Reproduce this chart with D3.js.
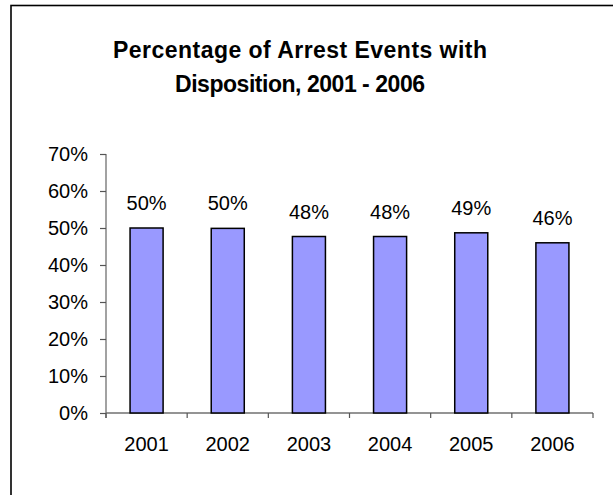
<!DOCTYPE html>
<html>
<head>
<meta charset="utf-8">
<script src="https://cdn.jsdelivr.net/npm/d3@7"></script>
<style>
  body { margin: 0; background: #fff; }
  svg { display: block; font-family: "Liberation Sans", Arial, sans-serif; }
</style>
</head>
<body>
<svg id="chart" width="613" height="495"></svg>
<script>
// data
const years = ['2001', '2002', '2003', '2004', '2005', '2006'];
const pctValues = [50.0, 49.9, 47.7, 47.7, 48.7, 46.0];
const yTicks = [0, 10, 20, 30, 40, 50, 60, 70];
const titleLines = ['Percentage of Arrest Events with', 'Disposition, 2001 - 2006'];

const width = 613, height = 495;
const plot = { left: 106, right: 593, top: 154, bottom: 413 };

const svg = d3.select('#chart');

svg.append('rect')
    .attr('width', width)
    .attr('height', height)
    .attr('fill', '#fff');

// outer frame, right and bottom edges fall outside the picture
svg.append('rect')
    .attr('x', 11)
    .attr('y', 5.5)
    .attr('width', 700)
    .attr('height', 600)
    .attr('fill', 'none')
    .attr('stroke', '#000')
    .attr('stroke-width', 1.6);

// title, each line stretched to the width seen in the picture
const titleLen = [374, 250];
const title = svg.append('text')
    .attr('text-anchor', 'middle')
    .attr('font-size', '23px')
    .attr('font-weight', 'bold')
    .attr('fill', '#000');
title.selectAll('tspan')
    .data(titleLines)
    .enter().append('tspan')
    .attr('x', 300)
    .attr('y', (d, i) => 58 + i * 33.5)
    .attr('textLength', (d, i) => titleLen[i])
    .attr('lengthAdjust', 'spacing')
    .text(d => d);

const x = d3.scaleBand()
    .domain(years)
    .range([plot.left, plot.right])
    .paddingInner(0.593)
    .paddingOuter(0.2965);

const xEdge = d3.scaleBand()
    .domain(years)
    .range([plot.left, plot.right]);

const y = d3.scaleLinear()
    .domain([0, 70])
    .range([plot.bottom, plot.top]);

// y axis
const yAxis = svg.append('g')
    .attr('transform', `translate(${plot.left},0)`)
    .call(d3.axisLeft(y)
        .tickValues(yTicks)
        .tickSize(6)
        .tickPadding(12)
        .tickFormat(d => d + '%'));
yAxis.select('.domain')
    .attr('d', `M0,${plot.top}V${plot.bottom + 5}`)
    .attr('stroke', '#707070')
    .attr('stroke-width', 1.3);
yAxis.selectAll('.tick line')
    .attr('stroke', '#555')
    .attr('stroke-width', 1.2);
yAxis.selectAll('.tick text')
    .attr('font-size', '20px')
    .attr('font-family', '"Liberation Sans", Arial, sans-serif')
    .attr('fill', '#000');

// x axis line and ticks at the category edges
const edges = years.map(d => xEdge(d)).concat([plot.right]);
const xAxis = svg.append('g');
xAxis.append('line')
    .attr('x1', plot.left)
    .attr('x2', plot.right)
    .attr('y1', plot.bottom)
    .attr('y2', plot.bottom)
    .attr('stroke', '#707070')
    .attr('stroke-width', 1.3);
xAxis.selectAll('.edge')
    .data(edges)
    .enter().append('line')
    .attr('class', 'edge')
    .attr('x1', d => d)
    .attr('x2', d => d)
    .attr('y1', plot.bottom)
    .attr('y2', plot.bottom + 5)
    .attr('stroke', '#555')
    .attr('stroke-width', 1.2);
xAxis.selectAll('.xlabel')
    .data(years)
    .enter().append('text')
    .attr('class', 'xlabel')
    .attr('x', d => xEdge(d) + xEdge.bandwidth() / 2)
    .attr('y', 451)
    .attr('text-anchor', 'middle')
    .attr('font-size', '20px')
    .attr('fill', '#000')
    .text(d => d);

// bars
svg.selectAll('.bar')
    .data(pctValues)
    .enter().append('rect')
    .attr('class', 'bar')
    .attr('x', (d, i) => x(years[i]))
    .attr('y', d => y(d))
    .attr('width', x.bandwidth())
    .attr('height', d => plot.bottom - y(d))
    .attr('fill', '#9999ff')
    .attr('stroke', '#000')
    .attr('stroke-width', 1.5);

// value labels
svg.selectAll('.vlabel')
    .data(pctValues)
    .enter().append('text')
    .attr('class', 'vlabel')
    .attr('x', (d, i) => x(years[i]) + x.bandwidth() / 2)
    .attr('y', d => y(d) - 18)
    .attr('text-anchor', 'middle')
    .attr('font-size', '20px')
    .attr('fill', '#000')
    .text(d => Math.round(d) + '%');
</script>
</body>
</html>
